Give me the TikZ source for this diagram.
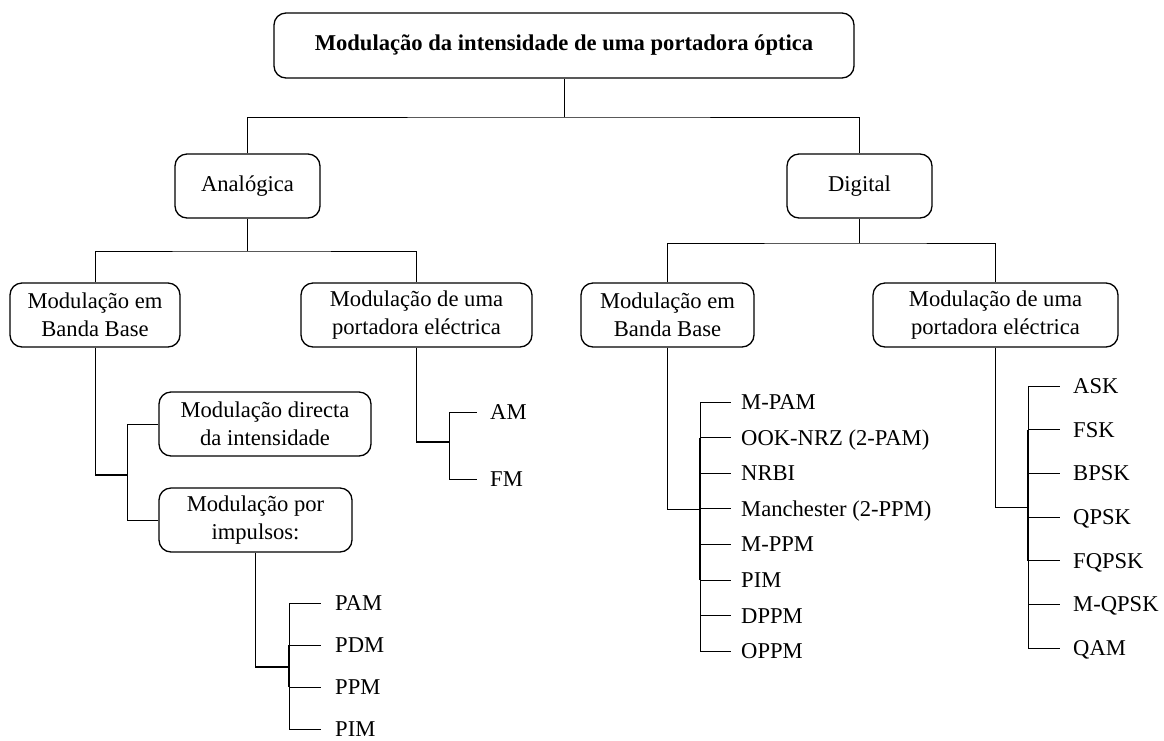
\documentclass[tikz,border=0pt]{standalone}
\usepackage{fontspec}
\setmainfont{Liberation Serif}
\begin{document}
\begin{tikzpicture}[x=1pt,y=-1pt,
  txt/.style={font=\fontsize{22.6}{28}\selectfont},
  box/.style={draw, line width=1.3pt, rounded corners=12pt, align=center, inner sep=0pt, minimum height=64pt, txt},
  lab/.style={anchor=west, inner sep=0pt, text height=15pt, text depth=0pt, txt},
  con/.style={line width=1pt},
  thk/.style={line width=1.9pt}]
\useasboundingbox (0,0) rectangle (1164,740);

% boxes
\node[box, minimum width=580pt, minimum height=65pt, font=\bfseries\fontsize{22.6}{28}\selectfont] (top) at (564,45.5) {Modulação da intensidade de uma portadora óptica};
\node[box, minimum width=145pt] (ana) at (247.5,186) {Analógica};
\node[box, minimum width=145pt] (dig) at (859.5,186) {Digital};
\node[box, minimum width=170pt] (abb) at (95,315) {Modulação em\\Banda Base};
\node[box, minimum width=231pt] (ape) at (416.5,315) {Modulação de uma\\portadora eléctrica};
\node[box, minimum width=173pt] (dbb) at (667.5,315) {Modulação em\\Banda Base};
\node[box, minimum width=245pt] (dpe) at (995.5,315) {Modulação de uma\\portadora eléctrica};
\node[box, minimum width=212pt] (dir) at (265,424) {Modulação directa\\da intensidade};
\node[box, minimum width=193pt] (imp) at (255.5,520) {Modulação por\\impulsos:};

% leaf labels
\node[lab] (p1) at (335,603) {PAM};
\node[lab] (p2) at (335,645) {PDM};
\node[lab] (p3) at (335,687) {PPM};
\node[lab] (p4) at (335,729) {PIM};

\node[lab] (am) at (490,412) {AM};
\node[lab] (fm) at (490,479) {FM};

\node[lab] (q1) at (741,402) {M-PAM};
\node[lab] (q2) at (741,437.6) {OOK-NRZ (2-PAM)};
\node[lab] (q3) at (741,473.2) {NRBI};
\node[lab] (q4) at (741,508.8) {Manchester (2-PPM)};
\node[lab] (q5) at (741,544.4) {M-PPM};
\node[lab] (q6) at (741,580) {PIM};
\node[lab] (q7) at (741,615.6) {DPPM};
\node[lab] (q8) at (741,651.2) {OPPM};

\node[lab] (r1) at (1073,386) {ASK};
\node[lab] (r2) at (1073,429.7) {FSK};
\node[lab] (r3) at (1073,473.3) {BPSK};
\node[lab] (r4) at (1073,517) {QPSK};
\node[lab] (r5) at (1073,560.7) {FQPSK};
\node[lab] (r6) at (1073,604.3) {M-QPSK};
\node[lab] (r7) at (1073,648) {QAM};

% top level
\coordinate (t1) at (564,117);
\draw[con] (top.south) -- (t1);
\draw[con] (ana.north) |- (t1) -| (dig.north);

\coordinate (a1) at (247.5,251);
\draw[con] (ana.south) -- (a1);
\draw[con] (abb.north) |- (a1) -| (ape.north);

\coordinate (d1) at (859.5,243);
\draw[con] (dig.south) -- (d1);
\draw[con] (dbb.north) |- (d1) -| (dpe.north);

% analog baseband
\coordinate (b1) at (127,475);
\draw[con] (abb.south) |- (b1);
\draw[thk] (abb.south |- b1) -- (b1);
\draw[con] (dir.west) -| (b1);
\draw[con] (imp.west) -| (b1);

% pulse modulation
\coordinate (i1) at (289,667);
\draw[con] (imp.south) |- (i1);
\draw[thk] (imp.south |- i1) -- (i1);
\draw[con] (i1 |- p1.west) -- (i1 |- p4.west);
\draw[thk] (i1 |- p2.west) -- (i1 |- p3.west);
\foreach \n in {p1,p2,p3,p4} \draw[con] (i1 |- \n.west) -- ([xshift=-14pt]\n.west);

% AM / FM
\coordinate (e1) at (449,442);
\draw[con] (ape.south) |- (e1);
\draw[thk] (ape.south |- e1) -- (e1);
\draw[con] (e1 |- am.west) -- (e1 |- fm.west);
\foreach \n in {am,fm} \draw[con] (e1 |- \n.west) -- ([xshift=-13pt]\n.west);

% digital baseband
\coordinate (g1) at (700,509);
\draw[con] (dbb.south) |- (g1);
\draw[con] (g1 |- q1.west) -- (g1 |- q8.west);
\draw[thk] (g1 |- q2.west) -- (g1 |- q6.west);
\foreach \n in {q1,q2,q3,q4,q5,q6,q7,q8} \draw[con] (g1 |- \n.west) -- ([xshift=-10pt]\n.west);

% digital electrical carrier
\coordinate (h1) at (1028,507);
\draw[con] (dpe.south) |- (h1);
\draw[con] (h1 |- r1.west) -- (h1 |- r7.west);
\draw[thk] (h1 |- r2.west) -- (h1 |- r5.west);
\foreach \n in {r1,r2,r3,r4,r5,r6,r7} \draw[con] (h1 |- \n.west) -- ([xshift=-13pt]\n.west);
\end{tikzpicture}
\end{document}
